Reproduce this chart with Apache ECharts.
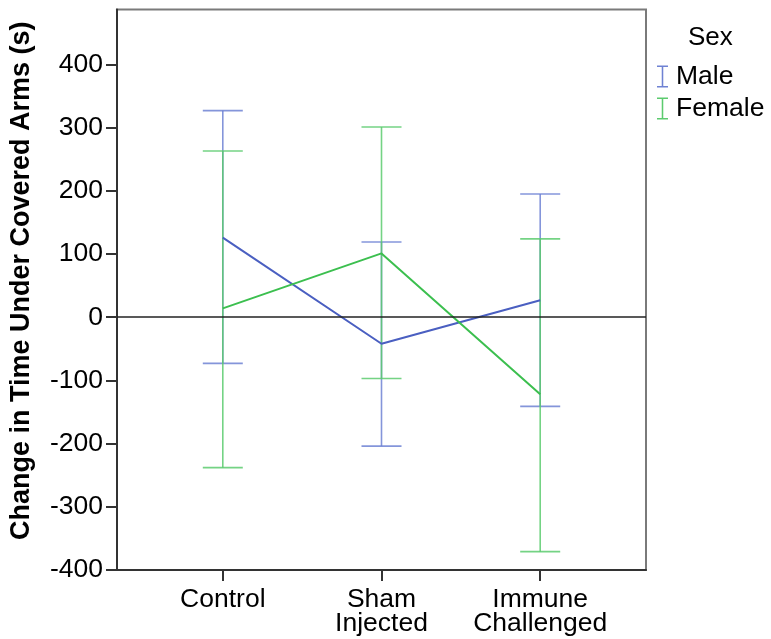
<!DOCTYPE html>
<html>
<head>
<meta charset="utf-8">
<script src="https://cdn.jsdelivr.net/npm/echarts@6/dist/echarts.min.js"></script>
<style>
  html, body { margin: 0; padding: 0; background: #fff; }
  #chart { width: 771px; height: 639px; }
</style>
</head>
<body>
<div id="chart"></div>
<script>
var categories = ["Control", "Sham\nInjected", "Immune\nChallenged"];
var yTicks = [-400, -300, -200, -100, 0, 100, 200, 300, 400];

var maleMean = [126, -42, 27];
var maleUpper = [327, 119, 195];
var maleLower = [-73, -204, -141];

var femaleMean = [14, 101, -122];
var femaleUpper = [263, 301, 124];
var femaleLower = [-238, -97, -371];

var FONT = "Liberation Sans, Arial, sans-serif";
var BLUE = "#4a5fc1";
var BLUE_BAR = "#6f82d3";
var GREEN = "#3cbf4f";
var GREEN_BAR = "#5ccb6e";

function toPoints(arr) {
  return arr.map(function (v, i) { return [i + 1, v]; });
}
function toBars(lo, hi) {
  return lo.map(function (v, i) { return [i + 1, v, hi[i]]; });
}

// error bar with caps
function renderErrorBar(params, api) {
  var x = api.value(0);
  var lo = api.coord([x, api.value(1)]);
  var hi = api.coord([x, api.value(2)]);
  var w = 20;
  var color = api.visual("color");
  function ln(x1, y1, x2, y2) {
    return {
      type: "line",
      shape: { x1: x1, y1: y1, x2: x2, y2: y2 },
      style: { stroke: color, lineWidth: 1.6, opacity: 0.85 }
    };
  }
  return {
    type: "group",
    children: [
      ln(hi[0], hi[1], lo[0], lo[1]),
      ln(hi[0] - w, hi[1], hi[0] + w, hi[1]),
      ln(lo[0] - w, lo[1], lo[0] + w, lo[1])
    ]
  };
}

var ibeam = "path://M0,0H10V1.4H5.7V18.6H10V20H0V18.6H4.3V1.4H0Z";

var myChart = echarts.init(document.getElementById("chart"));
myChart.setOption({
  animation: false,
  textStyle: { fontFamily: FONT },
  title: {
    text: "Sex",
    left: 683,
    top: 20,
    textStyle: { fontFamily: FONT, fontSize: 26, fontWeight: "normal", color: "#000" }
  },
  legend: {
    orient: "vertical",
    left: 652,
    top: 58,
    itemWidth: 11,
    itemHeight: 22,
    itemGap: 5,
    textStyle: { fontFamily: FONT, fontSize: 26.5, color: "#000", padding: [0, 0, 0, 3] },
    data: [
      { name: "Male", icon: ibeam, itemStyle: { color: BLUE_BAR } },
      { name: "Female", icon: ibeam, itemStyle: { color: GREEN_BAR } }
    ]
  },
  grid: {
    left: 117,
    right: 125,
    top: 9.5,
    bottom: 69,
    outerBoundsMode: "none",
    show: true,
    borderColor: "#7a7a7a",
    borderWidth: 2
  },
  xAxis: {
    type: "value",
    min: 1 / 3,
    max: 11 / 3,
    splitLine: { show: false },
    axisLine: { show: true, onZero: false, lineStyle: { color: "#333", width: 2 } },
    axisTick: { show: true, length: 11, customValues: [1, 2, 3], lineStyle: { color: "#333", width: 2 } },
    axisLabel: {
      customValues: [1, 2, 3],
      margin: 18,
      fontSize: 26.5,
      lineHeight: 24,
      color: "#000",
      fontFamily: FONT,
      formatter: function (v) { return categories[Math.round(v) - 1]; }
    }
  },
  yAxis: {
    type: "value",
    min: -400,
    max: 487,
    interval: 100,
    name: "Change in Time Under Covered Arms (s)",
    nameLocation: "middle",
    nameGap: 82,
    nameTextStyle: { fontFamily: FONT, fontSize: 27, fontWeight: "bold", color: "#000", padding: [0, 0, 0, 18] },
    splitLine: { show: false },
    axisLine: { show: true, lineStyle: { color: "#333", width: 2 } },
    axisTick: { show: true, length: 11, customValues: yTicks, lineStyle: { color: "#333", width: 2 } },
    axisLabel: {
      customValues: yTicks,
      margin: 14,
      fontSize: 26.5,
      color: "#000",
      fontFamily: FONT
    }
  },
  series: [
    {
      name: "Male",
      type: "custom",
      renderItem: renderErrorBar,
      itemStyle: { color: BLUE_BAR },
      encode: { x: 0, y: [1, 2] },
      data: toBars(maleLower, maleUpper),
      z: 2
    },
    {
      name: "Female",
      type: "custom",
      renderItem: renderErrorBar,
      itemStyle: { color: GREEN_BAR },
      encode: { x: 0, y: [1, 2] },
      data: toBars(femaleLower, femaleUpper),
      z: 2
    },
    {
      name: "Male",
      type: "line",
      symbol: "none",
      lineStyle: { color: BLUE, width: 2 },
      itemStyle: { color: BLUE },
      data: toPoints(maleMean),
      z: 3,
      markLine: {
        silent: true,
        symbol: ["none", "none"],
        label: { show: false },
        lineStyle: { color: "#222", width: 1.5, type: "solid" },
        data: [{ yAxis: 0 }]
      }
    },
    {
      name: "Female",
      type: "line",
      symbol: "none",
      lineStyle: { color: GREEN, width: 2 },
      itemStyle: { color: GREEN },
      data: toPoints(femaleMean),
      z: 3
    }
  ]
});
</script>
</body>
</html>
